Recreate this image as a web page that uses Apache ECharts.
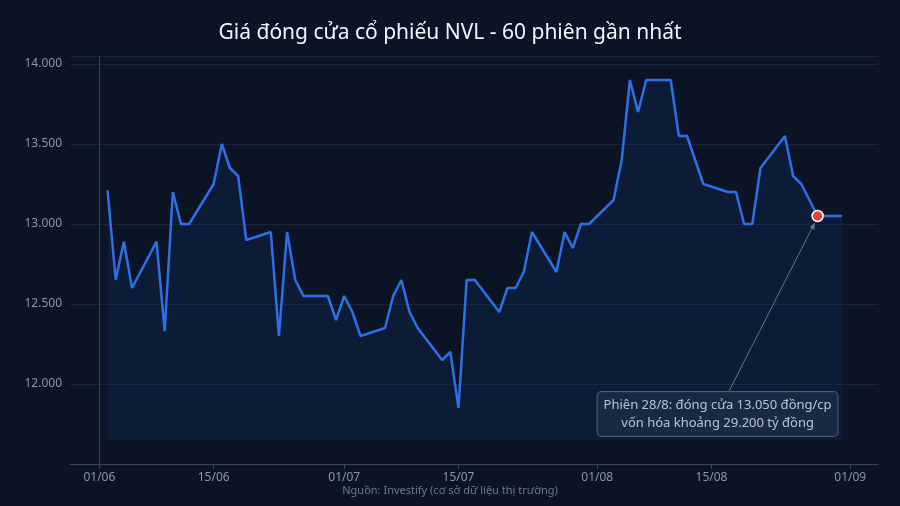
<!DOCTYPE html>
<html><head><meta charset="utf-8">
<script src="https://cdn.jsdelivr.net/npm/echarts@6/dist/echarts.min.js"></script>
<style>html,body{margin:0;padding:0;background:#0b1424}#c{width:900px;height:506px}</style>
</head><body><div id="c"></div>
<script>
const dates = ['06-02','06-03','06-04','06-05','06-08','06-09','06-10','06-11','06-12','06-15','06-16','06-17','06-18','06-19','06-22','06-23','06-24','06-25','06-26','06-29','06-30','07-01','07-02','07-03','07-06','07-07','07-08','07-09','07-10','07-13','07-14','07-15','07-16','07-17','07-20','07-21','07-22','07-23','07-24','07-27','07-28','07-29','07-30','07-31','08-03','08-04','08-05','08-06','08-07','08-08','08-10','08-11','08-12','08-14','08-17','08-18','08-19','08-20','08-21','08-24','08-25','08-26','08-28','08-31'];
const prices = [13210,12650,12890,12600,12890,12330,13200,13000,13000,13250,13500,13350,13300,12900,12950,12300,12950,12650,12550,12550,12400,12550,12450,12300,12350,12550,12650,12450,12350,12150,12200,11850,12650,12650,12450,12600,12600,12700,12950,12700,12950,12850,13000,13000,13150,13400,13900,13700,13900,13900,13900,13550,13550,13250,13200,13200,13000,13000,13350,13550,13300,13250,13050,13050];
const xTickLabels = ['06-01','06-15','07-01','07-15','08-01','08-15','09-01'];
const yTicks = [12000,12500,13000,13500,14000];
const highlightDate = '08-28', highlightValue = 13050;
const noteText = 'Phiên 28/8: đóng cửa 13.050 đồng/cp\nvốn hóa khoảng 29.200 tỷ đồng';

const DAY = 86400000, BASE = Date.UTC(2025,5,1);
const dayNum = s => { const [m,d] = s.split('-').map(Number); return Math.round((Date.UTC(2025,m-1,d)-BASE)/DAY); };
const fmt = v => v.toLocaleString('de-DE');
const data = dates.map((d,i)=>[dayNum(d), prices[i]]);
const tickDays = xTickLabels.map(dayNum);
const dayLabel = v => { const d = new Date(BASE + Math.round(v)*DAY); return String(d.getUTCDate()).padStart(2,'0')+'/'+String(d.getUTCMonth()+1).padStart(2,'0'); };

const chart = echarts.init(document.getElementById('c'));
chart.setOption({
  backgroundColor:'#0b1424',
  animation:false,
  title:{text:'Giá đóng cửa cổ phiếu NVL - 60 phiên gần nhất',left:'center',top:18,
    textStyle:{color:'#f2f5fa',fontSize:21,fontWeight:'normal',fontFamily:'Noto Sans'}},
  grid:{left:70,right:22,top:56,bottom:42},
  xAxis:{type:'value',min:-3.6,max:95.4,
    axisLine:{lineStyle:{color:'#3a4658'}},
    axisTick:{customValues:tickDays,lineStyle:{color:'#3a4658'}},
    axisLabel:{customValues:tickDays,color:'#8a96a8',fontSize:12,fontFamily:'Noto Sans',formatter:dayLabel},
    splitLine:{show:false}},
  yAxis:{type:'value',min:11500,max:14050,interval:500,
    axisLine:{show:true,lineStyle:{color:'#3a4658'}},axisTick:{show:false},
    axisLabel:{color:'#8a96a8',fontSize:12,fontFamily:'Noto Sans',formatter:v=>yTicks.includes(v)?fmt(v):''},
    splitLine:{lineStyle:{color:'#18243a'}}},
  series:[{type:'line',data:data,symbol:'none',
    lineStyle:{color:'#2f6fe6',width:2.5},
    areaStyle:{origin:11650,color:'rgba(22,52,110,0.35)'},
    markPoint:{symbol:'circle',symbolSize:11,
      itemStyle:{color:'#e8413c',borderColor:'#ffffff',borderWidth:1.5},
      label:{show:false},
      data:[{coord:[dayNum(highlightDate),highlightValue]}]}}
  ]
});
const p = chart.convertToPixel({gridIndex:0},[dayNum(highlightDate),highlightValue]);
const bx = p[0]-100, by = p[1]+198;
chart.setOption({graphic:[
  {type:'text',left:'center',top:485,style:{text:'Nguồn: Investify (cơ sở dữ liệu thị trường)',fill:'#6b7a90',fontSize:11,fontFamily:'Noto Sans'}},
  {type:'line',shape:{x1:bx+10,y1:by-20,x2:p[0]-3,y2:p[1]+7},style:{stroke:'#7d8898',lineWidth:1}},
  {type:'polygon',shape:{points:[[p[0]-3,p[1]+7],[p[0]-3,p[1]+14],[p[0]-8,p[1]+11]]},style:{fill:'#7d8898'}},
  {type:'text',x:bx,y:by,style:{text:noteText,fill:'#e8ecf2',fontSize:13,fontFamily:'Noto Sans',align:'center',verticalAlign:'middle',lineHeight:18,
    backgroundColor:'rgba(30,40,56,0.9)',borderColor:'#5c6778',borderWidth:1,borderRadius:4,padding:[4,6]}}
]});
</script></body></html>
